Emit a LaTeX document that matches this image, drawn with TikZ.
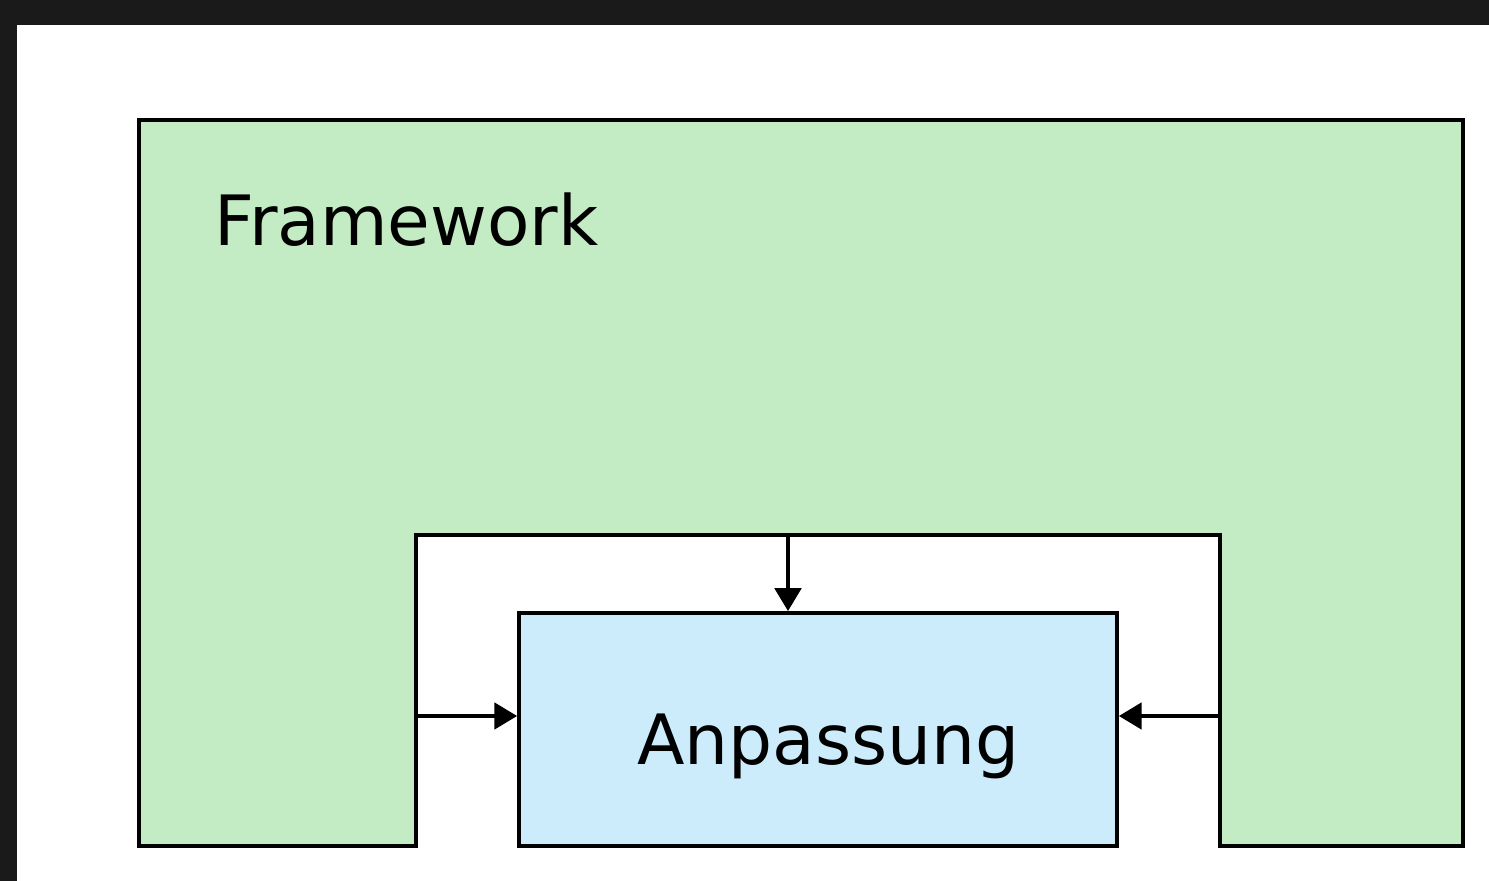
\documentclass[tikz,border=0pt]{standalone}
\usepackage{fontspec}
\setmainfont{DejaVu Sans}
\usepackage{xcolor}
\usetikzlibrary{positioning,arrows.meta}
\definecolor{fwgreen}{RGB}{196,236,196}
\definecolor{apblue}{RGB}{204,236,252}
\definecolor{frame}{RGB}{26,26,26}
\tikzset{
  box/.style={draw,line width=2.2pt},
  flow/.style={line width=2.2pt,-{Triangle[length=13pt,width=15pt]}},
  big/.style={font=\fontsize{39.5}{47}\selectfont}
}

\begin{document}
\begin{tikzpicture}[x=0.02cm,y=-0.02cm]
\useasboundingbox[fill=frame] (0,0) rectangle (1489,881);
\fill[white] (17,25) rectangle (1489,881);
%
\draw[box,fill=fwgreen,line join=miter] (139,120) -- (1463,120) -- (1463,846) -- (1220,846)
  -- (1220,535) -- (416,535) -- (416,846) -- (139,846) -- cycle;
\node[big,anchor=base west] (framework) at (208,246) {Framework};
%
\node[box,fill=apblue,minimum width=11.96cm,minimum height=4.66cm] (anpassung) at (818,729.5) {};
\node[big,anchor=base west] (anpassungtext) at (631,765) {Anpassung};
%
\coordinate (top) at (788,535);
\coordinate (left) at (416,716);
\coordinate (right) at (1220,716);
\draw[flow] (top) -- (top |- anpassung.north);
\draw[flow] (left) -- (left -| anpassung.west);
\draw[flow] (right) -- (right -| anpassung.east);
\end{tikzpicture}
\end{document}
